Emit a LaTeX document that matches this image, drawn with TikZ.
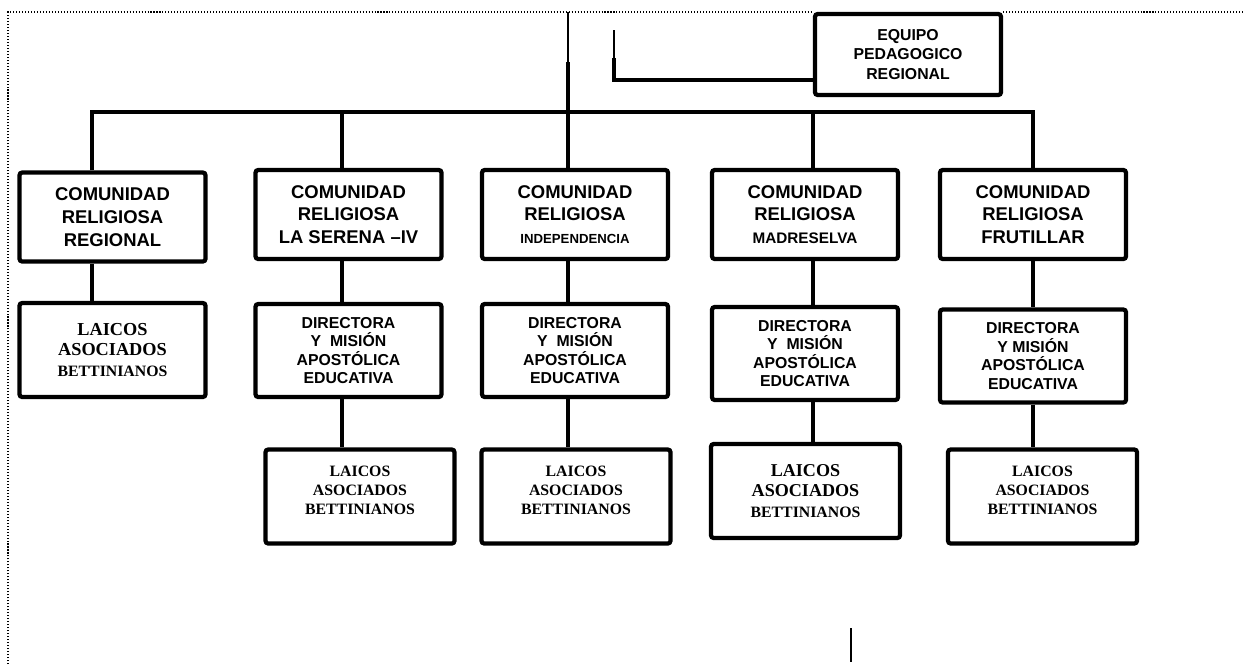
\documentclass[tikz,border=0pt]{standalone}
\usepackage{fontspec}
\setmainfont{Liberation Serif}
\setsansfont{Liberation Sans}

\begin{document}
\begin{tikzpicture}[x=0.02cm,y=-0.02cm,
	unit/.style={draw, line width=2.4pt, rounded corners=1.5pt, inner sep=0pt, align=center, minimum width=3.72cm, minimum height=1.78cm},
	comunidad/.style={unit, font=\sffamily\bfseries\fontsize{10.5}{13}\selectfont},
	directora/.style={unit, minimum height=1.86cm, font=\sffamily\bfseries\fontsize{9}{10.5}\selectfont},
	laicos/.style={unit, minimum width=3.78cm, minimum height=1.88cm, font=\rmfamily\bfseries\fontsize{9}{11}\selectfont},
	link/.style={line width=2.6pt},
	hair/.style={line width=0.7pt},
	frame/.style={line width=0.6pt, dash pattern=on 0.6pt off 1.1pt}]
	\useasboundingbox (0,0) rectangle (1243,664);

	% equipo regional
	\node[unit, minimum height=1.62cm, font=\sffamily\bfseries\fontsize{9}{11.3}\selectfont] (equipo) at (908,54.5) {EQUIPO\\PEDAGOGICO\\REGIONAL};

	% comunidades
	\node[comunidad] (com1) at (112.5,217) {COMUNIDAD\\RELIGIOSA\\REGIONAL};
	\node[comunidad] (com2) at (348.5,214.5) {COMUNIDAD\\RELIGIOSA\\LA SERENA –IV};
	\node[comunidad] (com3) at (575,214.5) {COMUNIDAD\\RELIGIOSA\\{\fontsize{7.5}{9}\selectfont INDEPENDENCIA}};
	\node[comunidad] (com4) at (805,214.5) {COMUNIDAD\\RELIGIOSA\\{\fontsize{8.7}{10}\selectfont MADRESELVA}};
	\node[comunidad] (com5) at (1033,214.5) {COMUNIDAD\\RELIGIOSA\\FRUTILLAR};

	% directoras
	\node[laicos, minimum width=3.72cm, font=\rmfamily\bfseries\fontsize{10.4}{11.6}\selectfont] (lai1) at (112.5,350) {LAICOS\\ASOCIADOS\\{\fontsize{9}{11}\selectfont BETTINIANOS}};
	\node[directora] (dir2) at (348.5,350.5) {DIRECTORA\\Y~ MISIÓN\\APOSTÓLICA\\EDUCATIVA};
	\node[directora] (dir3) at (575,350.5) {DIRECTORA\\Y~ MISIÓN\\APOSTÓLICA\\EDUCATIVA};
	\node[directora] (dir4) at (805,353.5) {DIRECTORA\\Y~ MISIÓN\\APOSTÓLICA\\EDUCATIVA};
	\node[directora] (dir5) at (1033,356) {DIRECTORA\\Y MISIÓN\\APOSTÓLICA\\EDUCATIVA};

	% laicos
	\node[laicos] (lai2) at (360,496.5) {LAICOS\\ASOCIADOS\\BETTINIANOS\\[-4pt]};
	\node[laicos] (lai3) at (576,496.5) {LAICOS\\ASOCIADOS\\BETTINIANOS\\[-4pt]};
	\node[laicos, font=\rmfamily\bfseries\fontsize{10.3}{11.6}\selectfont] (lai4) at (805.5,491) {LAICOS\\ASOCIADOS\\{\fontsize{9}{11}\selectfont BETTINIANOS}};
	\node[laicos] (lai5) at (1042.5,496.5) {LAICOS\\ASOCIADOS\\BETTINIANOS\\[-4pt]};

	% frame
	\coordinate (fa) at (8,12);
	\coordinate (fb) at (8,664);
	\coordinate (fc) at (1243,12);
	\draw[frame] (fb) -- (fa) -- (fa -| equipo.west);
	\draw[frame] (fc -| equipo.east) -- (fc);

	% bus
	\coordinate (j1) at (92,112);
	\coordinate (j2) at (342,112);
	\coordinate (j3) at (568,112);
	\coordinate (j4) at (813,112);
	\coordinate (j5) at (1033,112);
	\coordinate (top) at (568,62);
	\draw[hair] (top) -- (top |- fa);
	\draw[link] (top) -- (j3) -- (j3 |- com3.north);
	\draw[link] (j1 |- com1.north) -- (j1) -- (j5) -- (com5.north);
	\draw[link] (j2) -- (j2 |- com2.north);
	\draw[link] (j4) -- (j4 |- com4.north);

	% equipo link
	\coordinate (k1) at (614,30);
	\coordinate (k2) at (614,58);
	\coordinate (k3) at (614,80);
	\draw[hair] (k1) -- (k2);
	\draw[link] (k2) -- (k3) -- (k3 -| equipo.west);

	% vertical links
	\draw[link] (com1.south -| j1) -- (lai1.north -| j1);
	\draw[link] (com2.south -| j2) -- (dir2.north -| j2);
	\draw[link] (com3.south -| j3) -- (dir3.north -| j3);
	\draw[link] (com4.south -| j4) -- (dir4.north -| j4);
	\draw[link] (com5.south) -- (dir5.north);
	\draw[link] (dir2.south -| j2) -- (lai2.north -| j2);
	\draw[link] (dir3.south -| j3) -- (lai3.north -| j3);
	\draw[link] (dir4.south -| j4) -- (lai4.north -| j4);
	\draw[link] (dir5.south) -- (lai5.north -| dir5.south);

	% stray mark
	\coordinate (m1) at (851,628);
	\coordinate (m2) at (851,662);
	\draw[hair] (m1) -- (m2);
\end{tikzpicture}
\end{document}
